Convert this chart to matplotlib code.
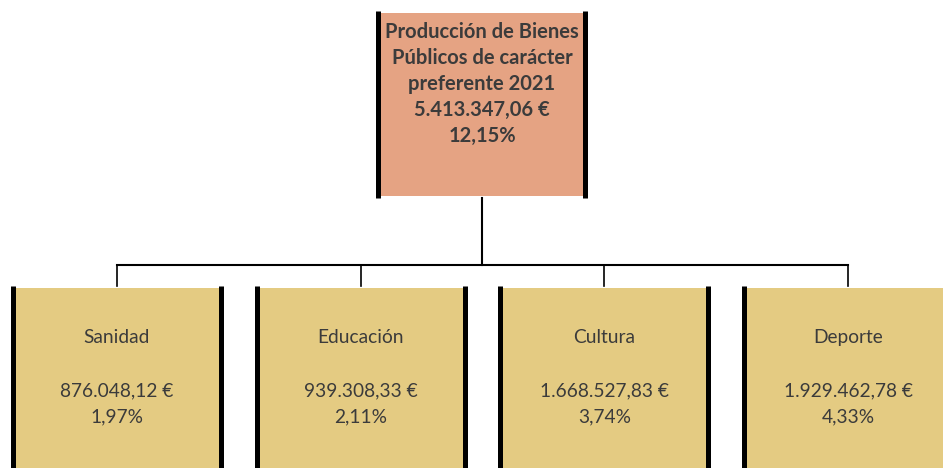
import matplotlib
matplotlib.use("Agg")
import matplotlib.pyplot as plt
import matplotlib.patches as mpatches

# datos
titulo = ["Producción de Bienes", "Públicos de carácter", "preferente 2021"]
total = "5.413.347,06 €"
total_pct = "12,15%"
areas = ["Sanidad", "Educación", "Cultura", "Deporte"]
importes = ["876.048,12 €", "939.308,33 €", "1.668.527,83 €", "1.929.462,78 €"]
pcts = ["1,97%", "2,11%", "3,74%", "4,33%"]

W, H = 943, 468
c_top = "#E5A383"
c_bot = "#E4CB82"
c_txt = "#3B3B3B"
plt.rcParams['font.family'] = ['Lato', 'DejaVu Sans']

fig = plt.figure(figsize=(W / 100, H / 100), dpi=100)
ax = fig.add_axes([0, 0, 1, 1])
ax.set_xlim(0, W)
ax.set_ylim(H, 0)
ax.axis('off')

def caja(x0, x1, y0, y1, color):
    ax.add_patch(mpatches.Rectangle((x0, y0 + 2), x1 - x0, y1 - y0 - 4, color=color, lw=0))
    ax.plot([x0 - 2, x0 - 2], [y0, y1], color='black', lw=3.6, solid_capstyle='butt')
    ax.plot([x1 + 2, x1 + 2], [y0, y1], color='black', lw=3.6, solid_capstyle='butt')

# caja superior
caja(380, 583, 11, 198, c_top)
cx = 482
lineas = titulo + [total, total_pct]
for i, t in enumerate(lineas):
    ax.text(cx, 38 + i * 26, t, ha='center', va='baseline', fontsize=14.5,
            fontweight='bold', color=c_txt)

# conectores
centros = [117 + i * 243.7 for i in range(len(areas))]
ax.plot([cx, cx], [198, 265], color='black', lw=1.5)
ax.plot([centros[0], centros[-1]], [265, 265], color='black', lw=1.5)
for c in centros:
    ax.plot([c, c], [265, 286], color='black', lw=1.2)

# cajas inferiores
for c, a, v, p in zip(centros, areas, importes, pcts):
    caja(c - 102, c + 102, 286, H + 5, c_bot)
    ax.text(c, 343, a, ha='center', va='baseline', fontsize=13.8, color=c_txt)
    ax.text(c, 396, v, ha='center', va='baseline', fontsize=13.8, color=c_txt)
    ax.text(c, 422, p, ha='center', va='baseline', fontsize=13.8, color=c_txt)

fig.savefig("out.png", dpi=100)
